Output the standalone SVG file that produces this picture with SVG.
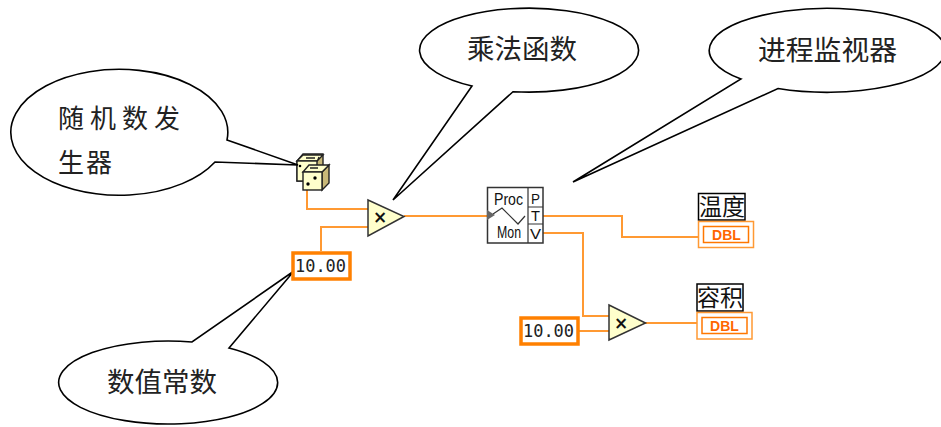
<svg xmlns="http://www.w3.org/2000/svg" width="941" height="427" viewBox="0 0 941 427">
<defs><style>
.call{fill:#fff;stroke:#000;stroke-width:1.6;stroke-linejoin:miter}
.cjk{font-family:"Noto Sans CJK SC","Liberation Serif",serif;font-size:27px;fill:#222}
.wire{fill:none;stroke:#ff9933;stroke-width:2}
.num{fill:#fff;stroke:#ff8000;stroke-width:3.5}
.numt{font-family:"DejaVu Sans Mono","Liberation Mono",monospace;font-size:18px;fill:#222}
.mul{fill:#ffffcc;stroke:#333;stroke-width:1.5}
.x{font-family:"DejaVu Sans",sans-serif;font-size:17px;font-weight:bold;fill:#111;text-anchor:middle}
.ind{fill:#fff;stroke:#ff9933;stroke-width:1.5}
.indin{fill:#fff;stroke:#ff7700;stroke-width:1.5}
.dbl{font-family:"Liberation Sans",sans-serif;font-size:14px;font-weight:bold;fill:#ff6600;text-anchor:middle}
.lab{fill:#fff;stroke:#000;stroke-width:1.5}
.labt{font-family:"Noto Sans CJK SC",sans-serif;font-size:23px;fill:#111;text-anchor:middle}
.pm{font-family:"Liberation Sans",sans-serif;font-size:17px;fill:#111}
.pt{font-family:"Liberation Sans",sans-serif;font-size:14px;fill:#111}
.box{fill:#fff;stroke:#333;stroke-width:1.5}
.thin{fill:none;stroke:#333;stroke-width:1.2}
.die{fill:#ffffcc;stroke:#222;stroke-width:1.4}
.dies{fill:#c8b878;stroke:#222;stroke-width:1.4}
</style></defs>
<g id="connectors">
<path class="wire" d="M307 190V209H368"/>
<path class="wire" d="M321 251V227H368"/>
<path class="wire" d="M404 216H488"/>
<path class="wire" d="M543 216H622V237H698"/>
<path class="wire" d="M543 233H583V316H609"/>
<path class="wire" d="M579 331H609"/>
<path class="wire" d="M645 323H697"/>
</g>
<g id="dice">
<path class="dies" d="M303 154H323V165L317 172V181H297V161Z"/>
<path class="die" d="M297 161L303 155H323L317 161Z"/>
<rect class="die" x="297" y="161" width="20" height="20"/>
<path class="dies" d="M322 172L329 165V183L322 190Z"/>
<path class="die" d="M303 172L309 165H329L322 172Z"/>
<rect class="die" x="303" y="172" width="19" height="18"/>
<path d="M306 158H315M319 157L318 160M310 168H318" stroke="#222" stroke-width="1.500" fill="none"/>
<circle cx="300" cy="166" r="1.300" fill="#000"/>
<circle cx="308" cy="184" r="1.700" fill="#000"/><circle cx="315" cy="178" r="1.700" fill="#000"/>
</g>
<g id="callout-random">
<path class="call" d="M227 140L298 165L215 162A108.500 63 0 1 1 227 140Z"/>
<text class="cjk" x="58" y="128" style="font-size:26px;letter-spacing:6px">随机数发</text>
<text class="cjk" x="58" y="172" style="font-size:26px;letter-spacing:2px">生器</text>
</g>
<g id="callout-multiply">
<path class="call" d="M513 91.700A109.500 42 0 1 0 472 86L393 200Z"/>
<text class="cjk" x="467" y="59" style="font-size:27.500px">乘法函数</text>
</g>
<g id="callout-monitor">
<path class="call" d="M778 88.500A118 42 0 1 0 741 79L573 182Z"/>
<text class="cjk" x="758" y="60" style="font-size:27.800px">进程监视器</text>
</g>
<g id="callout-constant">
<path class="call" d="M229 348A109.500 41.500 0 1 1 192 342L294 271Z"/>
<text class="cjk" x="107" y="392" style="font-size:27.500px">数值常数</text>
</g>
<g id="multiply-1">
<path class="mul" d="M368 200L404 216.500L368 236Z"/>
<text class="x" x="380" y="223">×</text>
</g>
<g id="constant-1">
<rect class="num" x="293" y="253" width="57" height="26"/>
<text class="numt" x="295" y="272" textLength="51" lengthAdjust="spacingAndGlyphs">10.00</text>
</g>
<g id="process-monitor">
<rect class="box" x="487.500" y="187.500" width="55.500" height="55.500"/>
<path class="thin" d="M528 188V243M528 207H543M528 224H543"/>
<text class="pm" x="494" y="205" textLength="29" lengthAdjust="spacingAndGlyphs">Proc</text>
<text class="pm" x="497" y="238" textLength="24" lengthAdjust="spacingAndGlyphs">Mon</text>
<text class="pt" x="531" y="204" textLength="9" lengthAdjust="spacingAndGlyphs">P</text>
<text class="pt" x="531" y="221" textLength="9" lengthAdjust="spacingAndGlyphs">T</text>
<text class="pt" x="530" y="239" textLength="11" lengthAdjust="spacingAndGlyphs">V</text>
<path class="thin" d="M493 214L502 208L518 224L525 216"/>
<path d="M487 210L495 215L487 220Z" fill="#666"/>
</g>
<g id="indicator-temp">
<rect class="lab" x="698.500" y="193.500" width="46.500" height="26.500"/>
<text class="labt" x="722" y="215">温度</text>
<rect class="ind" x="698.500" y="221.500" width="55" height="26"/>
<rect class="indin" x="703.500" y="226.500" width="45" height="16"/>
<text class="dbl" x="726.500" y="239.500">DBL</text>
</g>
<g id="constant-2">
<rect class="num" x="521" y="318" width="57" height="26"/>
<text class="numt" x="523" y="337" textLength="51" lengthAdjust="spacingAndGlyphs">10.00</text>
</g>
<g id="multiply-2">
<path class="mul" d="M609 305L645.500 323L609 340Z"/>
<text class="x" x="621" y="329">×</text>
</g>
<g id="indicator-volume">
<rect class="lab" x="697" y="284" width="46" height="27"/>
<text class="labt" x="720" y="306">容积</text>
<rect class="ind" x="697" y="312.500" width="55" height="26.500"/>
<rect class="indin" x="702" y="317.500" width="45" height="16"/>
<text class="dbl" x="724.500" y="330.500">DBL</text>
</g>
</svg>
